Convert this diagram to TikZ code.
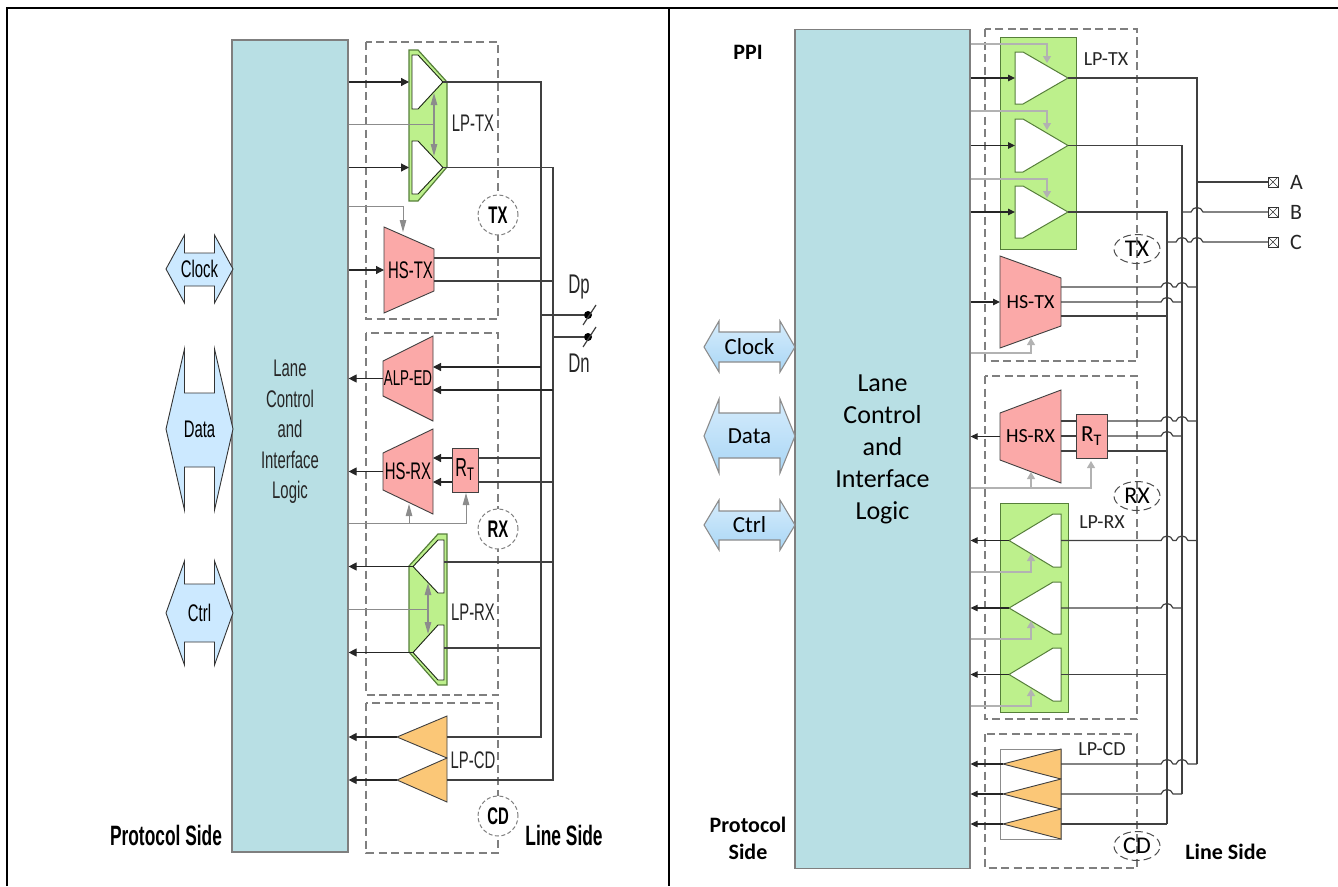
\documentclass[tikz,border=0pt]{standalone}
\usepackage{fontspec}
\setmainfont{Liberation Sans}
\newfontfamily\lfont[FakeStretch=0.62]{Liberation Sans}
\newfontfamily\rfont{Carlito}
\usepackage{xcolor}
\usepackage{tikz}
\usetikzlibrary{
  positioning, arrows.meta, shapes.geometric, calc
}
\definecolor{laneblue}{HTML}{B8DFE4}
\definecolor{hsred}{HTML}{FBA9A8}
\definecolor{lpgreen}{HTML}{BDF08C}
\definecolor{cdorange}{HTML}{FBC777}
\definecolor{busblue}{HTML}{CCE9FF}
\definecolor{bustop}{HTML}{D6ECFC}
\definecolor{buslow}{HTML}{A9D6F5}
\definecolor{dashgray}{HTML}{7F7F7F}
\definecolor{wiregray}{HTML}{404040}
\definecolor{tapgray}{HTML}{8C8C8C}
\definecolor{tapright}{HTML}{B2B2B2}
\definecolor{edgegreen}{HTML}{567F3A}

% amplifier pointing right: style, name, xl, xr, yt, yb
\newcommand{\ampright}[7][8]{%
  \draw[#2] (#4,#6) -- ({#4+#1},#6) -- (#5,{(#6+#7)/2}) -- ({#4+#1},#7) -- (#4,#7) -- cycle;
  \node[hit, minimum width={(#5-#4)*1pt}, minimum height={(#7-#6)*1pt}] (#3) at ({(#4+#5)/2},{(#6+#7)/2}) {};
}
% amplifier pointing left: style, name, xl, xr, yt, yb
\newcommand{\ampleft}[7][8]{%
  \draw[#2] (#5,#6) -- ({#5-#1},#6) -- (#4,{(#6+#7)/2}) -- ({#5-#1},#7) -- (#5,#7) -- cycle;
  \node[hit, minimum width={(#5-#4)*1pt}, minimum height={(#7-#6)*1pt}] (#3) at ({(#4+#5)/2},{(#6+#7)/2}) {};
}
% trapezium, narrow side right: font, name, xl, xr, yt, yb, inset, label
\newcommand{\trapout}[8]{%
  \draw[hsbody] (#3,#5) -- (#4,{#5+#7}) -- (#4,{#6-#7}) -- (#3,#6) -- cycle;
  \node[hit, font=#1, minimum width={(#4-#3)*1pt}, minimum height={(#6-#5)*1pt}] (#2) at ({(#3+#4)/2},{(#5+#6)/2}) {#8};
}
% trapezium, narrow side left
\newcommand{\trapin}[8]{%
  \draw[hsbody] (#3,{#5+#7}) -- (#4,#5) -- (#4,#6) -- (#3,{#6-#7}) -- cycle;
  \node[hit, font=#1, minimum width={(#4-#3)*1pt}, minimum height={(#6-#5)*1pt}] (#2) at ({(#3+#4)/2},{(#5+#6)/2}) {#8};
}
% two-way side arrow: style, name, top, shaft top, centre, shaft bottom, bottom, label
\newcommand{\sidearrow}[8]{%
  \draw[#1] (\bxa,#5) -- (\bxb,#3) -- (\bxb,#4) -- (\bxc,#4) -- (\bxc,#3) -- (\bxd,#5)
    -- (\bxc,#7) -- (\bxc,#6) -- (\bxb,#6) -- (\bxb,#7) -- cycle;
  \node[hit] (#2) at ({(\bxa+\bxd)/2},#5) {#8};
}
% wire hop over a bus
\newcommand{\hop}[2]{-- ($(#2 -| #1)+(-6,0)$) .. controls +(2,-6) and +(-2,-6) .. ($(#2 -| #1)+(6,0)$)}

\begin{document}
\begin{tikzpicture}[
  x=1pt, y=-1pt,
  hit/.style={inner sep=0pt, outer sep=0pt},
  laneblock/.style={rectangle, draw=dashgray, fill=laneblue, line width=1.2pt, align=center},
  dashbox/.style={draw=dashgray, line width=1.4pt, dash pattern=on 8pt off 4.5pt},
  hsbody/.style={draw=wiregray, fill=hsred, line width=0.9pt},
  rtbox/.style={rectangle, draw=wiregray, fill=hsred, line width=1pt, inner sep=0pt, outer sep=0pt},
  lpbody/.style={draw=edgegreen, fill=lpgreen, line width=1.2pt},
  lpamp/.style={draw=black!70!edgegreen, fill=white, line width=0.9pt},
  ramp/.style={draw=edgegreen, fill=white, line width=1pt},
  cdamp/.style={draw=black!75, fill=cdorange, line width=0.9pt},
  lbus/.style={draw=black!80, fill=busblue, line width=0.9pt},
  rbus/.style={draw=tapgray, top color=bustop, bottom color=buslow, line width=1.1pt},
  wire/.style={draw=wiregray, line width=1.2pt},
  arr/.style={draw=black!85, line width=1.2pt, -{Triangle[length=8pt,width=8pt]}},
  rarr/.style={draw=black!85, line width=1.1pt, -{Triangle[length=7pt,width=6.5pt]}},
  gtap/.style={draw=tapgray, line width=1pt},
  garr/.style={draw=tapgray, line width=1pt, -{Triangle[length=12pt,width=6.5pt]}},
  gdbl/.style={draw=tapgray, line width=1.2pt, {Triangle[length=12pt,width=6.5pt]}-{Triangle[length=12pt,width=6.5pt]}},
  rgarr/.style={draw=tapright, line width=1.1pt, -{Triangle[length=7pt,width=8pt]}},
  ring/.style={circle, draw=dashgray, fill=white, line width=1pt, dash pattern=on 4pt off 2.5pt, minimum size=40pt, inner sep=0pt},
  roval/.style={ellipse, draw=black!70, line width=1pt, dash pattern=on 8pt off 4pt, minimum width=46pt, minimum height=29pt, inner sep=0pt},
  pad/.style={circle, fill=black, minimum size=8pt, inner sep=0pt},
  term/.style={rectangle, draw=black!80, line width=0.9pt, minimum size=10pt, inner sep=0pt, outer sep=0pt,
    path picture={\draw[line width=0.6pt] (path picture bounding box.north west) -- (path picture bounding box.south east)
      (path picture bounding box.north east) -- (path picture bounding box.south west);}},
  ltext/.style={font=\lfont\fontsize{24}{31}\selectfont, text=black!85, align=center, inner sep=0pt},
  lbold/.style={font=\lfont\bfseries\fontsize{28}{32}\selectfont, inner sep=0pt},
  rtext/.style={font=\rfont\fontsize{20}{24}\selectfont, text=black!85, align=center, inner sep=0pt},
  rbold/.style={font=\rfont\bfseries\fontsize{22}{27}\selectfont, align=center, inner sep=0pt},
]
\useasboundingbox (0,0) rectangle (1338,886);

% Frame
\draw[line width=2.2pt] (7,886) -- (7,8) -- (1338,8);
\draw[line width=2.2pt] (669,8) -- (669,886);

% Left: blocks
\node[laneblock, minimum width=116pt, minimum height=812pt] (llane) at (290,446) {};
\node[ltext, font=\lfont\fontsize{24}{30.5}\selectfont] (llanetext) at (290,432) {Lane\\Control\\and\\Interface\\Logic};

\draw[dashbox] (366,42) rectangle (498,319);
\draw[dashbox] (366,333) rectangle (498,695);
\draw[dashbox] (366,703) rectangle (498,853);

% Left: side arrows
\def\bxa{166}\def\bxb{184.5}\def\bxc{214.5}\def\bxd{233}
\sidearrow{lbus}{lclock}{235}{253}{269}{286}{303}{\lfont\fontsize{24}{28}\selectfont Clock}
\sidearrow{lbus}{ldata}{349}{393}{429}{467}{510}{\lfont\fontsize{24}{28}\selectfont Data}
\sidearrow{lbus}{lctrl}{561}{584}{613}{642}{665}{\lfont\fontsize{24}{28}\selectfont Ctrl}

% Left: LP-TX
\draw[lpbody] (409,50) -- (418,50) -- (447,82) -- (447,167) -- (418,201) -- (409,201) -- cycle;
\ampright[6]{lpamp}{lptxA}{412}{443}{55}{109}
\ampright[6]{lpamp}{lptxB}{412}{443}{141}{194}
\node[ltext] (llptx) at (473,123) {LP-TX};
\coordinate (lptxS) at (434,124);
\draw[arr, shorten >=3pt] (llane.east |- lptxA.west) -- (lptxA.west);
\draw[arr, shorten >=3pt] (llane.east |- lptxB.west) -- (lptxB.west);
\draw[gtap] (llane.east |- lptxS) -- (lptxS);
\draw[gdbl] (434,93) -- (434,156);

% Left: HS-TX
\trapout{\lfont\fontsize{24}{28}\selectfont}{lhstx}{384}{434}{227}{313}{22}{\hspace{3pt}HS-TX}
\coordinate (lhstxP) at (434,258);
\coordinate (lhstxN) at (434,281);
\coordinate (lhstxG) at (403,232);
\draw[arr] (llane.east |- lhstx.west) -- (lhstx.west);
\draw[tapgray, line width=1pt, -{Triangle[length=12pt,width=6.5pt]}] (llane.east |- 0,206) -| (lhstxG);

% Left: ALP-ED and HS-RX
\trapin{\lfont\fontsize{21.5}{24}\selectfont}{lalped}{383}{433}{336}{421}{25}{ALP-ED}
\trapin{\lfont\fontsize{24}{28}\selectfont}{lhsrx}{383}{433}{429}{514}{24}{HS-RX}
\node[rtbox, minimum width=26pt, minimum height=44pt, font=\lfont\fontsize{26}{28}\selectfont] (lrt) at (465,470) {R\textsubscript{T}};
\coordinate (laledP) at (433,367);
\coordinate (laledN) at (433,390);
\coordinate (lrxP) at (433,458);
\coordinate (lrxN) at (433,482);
\coordinate (lrxG) at (409,504);
\coordinate (lrtG) at (466,493);
\draw[arr] (lalped.west) -- (llane.east |- lalped.west);
\draw[arr] (lhsrx.west) -- (llane.east |- lhsrx.west);
\draw[arr] (lrt.west |- lrxP) -- (lrxP);
\draw[arr] (lrt.west |- lrxN) -- (lrxN);
\draw[garr] (llane.east |- 0,523) -| (lrtG);
\draw[garr] (lrxG |- 0,523) -- (lrxG);

% Left: LP-RX
\draw[lpbody] (438,534) -- (447,534) -- (447,685) -- (438,685) -- (409,652) -- (409,566) -- cycle;
\ampleft[6]{lpamp}{lrxA}{413}{444}{540}{593}
\ampleft[6]{lpamp}{lrxB}{413}{444}{625}{680}
\node[ltext] (llprx) at (473,612) {LP-RX};
\coordinate (lrxaP) at (444,562);
\coordinate (lrxbP) at (444,648);
\coordinate (lrxS) at (428,609);
\draw[arr] (lrxA.west) -- (llane.east |- lrxA.west);
\draw[arr] (lrxB.west) -- (llane.east |- lrxB.west);
\draw[gtap] (llane.east |- lrxS) -- (lrxS);
\draw[gdbl] (428,583) -- (428,634);

% Left: LP-CD
\ampleft[0]{cdamp}{lcdA}{397}{447}{716}{758}
\ampleft[0]{cdamp}{lcdB}{397}{447}{758}{802}
\node[ltext] (llpcd) at (473,760) {LP-CD};
\draw[arr] (lcdA.west) -- (llane.east |- lcdA.west);
\draw[arr] (lcdB.west) -- (llane.east |- lcdB.west);

% Left: line side
\coordinate (lbusp) at (541,400);
\coordinate (lbusn) at (553,400);
\draw[wire] (lptxA.east) -| (lbusp) |- (lcdA.east);
\draw[wire] (lptxB.east) -| (lbusn) |- (lcdB.east);
\draw[wire] (lhstxP) -- (lhstxP -| lbusp);
\draw[wire] (lhstxN) -- (lhstxN -| lbusn);
\draw[wire] (lrxaP) -- (lrxaP -| lbusn);
\draw[wire] (lrxbP) -- (lrxbP -| lbusp);
\draw[arr] (laledP -| lbusp) -- (laledP);
\draw[arr] (laledN -| lbusn) -- (laledN);
\draw[wire] (lrxP -| lbusp) -- (lrt.east |- lrxP);
\draw[wire] (lrxN -| lbusn) -- (lrt.east |- lrxN);

\node[pad] (ldp) at (588,315) {};
\node[pad] (ldn) at (588,337) {};
\draw[wire] (ldp -| lbusp) -- (ldp);
\draw[wire] (ldn -| lbusn) -- (ldn);
\draw[wire] (ldp) ++(-5,10) -- ++(13,-20);
\draw[wire] (ldn) ++(-5,10) -- ++(13,-20);
\node[ltext, font=\lfont\fontsize{27}{31}\selectfont, above=12pt of ldp, xshift=-9pt] (ldplabel) {Dp};
\node[ltext, font=\lfont\fontsize{27}{31}\selectfont, below=13pt of ldn, xshift=-9pt] (ldnlabel) {Dn};

% Left: circles and titles
\node[ring, font=\lfont\bfseries\fontsize{24}{28}\selectfont] (ltx) at (498,215) {TX};
\node[ring, font=\lfont\bfseries\fontsize{24}{28}\selectfont] (lrx) at (498,529) {RX};
\node[ring, font=\lfont\bfseries\fontsize{24}{28}\selectfont] (lcd) at (498,816) {CD};
\node[lbold] (lproto) at (166,835) {Protocol Side};
\node[lbold] (lline) at (564,835) {Line Side};

% Right: blocks
\node[laneblock, minimum width=175pt, minimum height=839pt, font=\rfont\fontsize{26}{32}\selectfont] (rlane) at (882.5,449) {Lane\\Control\\and\\Interface\\Logic};

\draw[dashbox] (985,29) rectangle (1137,361);
\draw[dashbox] (985,376) rectangle (1137,719);
\draw[dashbox] (985,734) rectangle (1137,868);

% Right: side arrows
\def\bxa{704}\def\bxb{719}\def\bxc{780}\def\bxd{795}
\sidearrow{rbus}{rclock}{321}{332}{347}{362}{372}{\rfont\fontsize{23}{28}\selectfont Clock}
\sidearrow{rbus}{rdata}{399}{413}{436}{458}{473}{\rfont\fontsize{23}{28}\selectfont Data}
\sidearrow{rbus}{rctrl}{500}{511}{525}{540}{550}{\rfont\fontsize{23}{28}\selectfont Ctrl}

% Right: LP-TX
\draw[draw=edgegreen, fill=lpgreen, line width=1pt] (1000,37) rectangle (1076,249);
\foreach \amp/\yt/\yb in {rtxA/52/104, rtxB/119/172, rtxC/186/238}{
  \ampright{ramp}{\amp}{1015}{1068}{\yt}{\yb}
  \draw[rarr] (rlane.east |- \amp.west) -- (\amp.west);
}
\foreach \amp/\ytap/\yend in {rtxA/44/63, rtxB/111/130, rtxC/179/198}{
  \coordinate (\amp-g) at (1047,\yend);
  \draw[rgarr] (rlane.east |- 0,\ytap) -| (\amp-g);
}
\node[rtext] (rlptx) at (1106,59) {LP-TX};

% Right: HS-TX
\trapout{\rfont\fontsize{20}{24}\selectfont}{rhstx}{1000}{1061}{256}{348}{22}{HS-TX}
\coordinate (rhstxA) at (1061,287);
\coordinate (rhstxB) at (1061,302);
\coordinate (rhstxC) at (1061,316);
\coordinate (rhstxG) at (1031,338);
\draw[rarr] (rlane.east |- rhstx.west) -- (rhstx.west);
\draw[rgarr] (rlane.east |- 0,353) -| (rhstxG);

% Right: HS-RX
\trapin{\rfont\fontsize{20}{24}\selectfont}{rhsrx}{1000}{1061}{390}{483}{23}{HS-RX}
\node[rtbox, minimum width=31pt, minimum height=44pt, font=\rfont\fontsize{23}{26}\selectfont] (rrt) at (1091.5,436) {R\textsubscript{T}};
\coordinate (rrxA) at (1061,421);
\coordinate (rrxB) at (1061,436);
\coordinate (rrxC) at (1061,451);
\coordinate (rrxG) at (1031,472);
\coordinate (rrtG) at (1091,461);
\draw[rarr] (rhsrx.west) -- (rlane.east |- rhsrx.west);
\draw[wire] (rrxA) -- (rrt.west |- rrxA);
\draw[wire] (rrxB) -- (rrt.west |- rrxB);
\draw[wire] (rrxC) -- (rrt.west |- rrxC);
\draw[rgarr] (rlane.east |- 0,488) -| (rrtG);
\draw[rgarr] (rrxG |- 0,488) -- (rrxG);

% Right: LP-RX
\draw[draw=edgegreen, fill=lpgreen, line width=1pt] (1000,503) rectangle (1068,712);
\foreach \amp/\yt/\yb in {rrxa/514/567, rrxb/582/634, rrxc/648/701}{
  \ampleft{ramp}{\amp}{1009}{1061}{\yt}{\yb}
  \draw[rarr] (\amp.west) -- (rlane.east |- \amp.west);
}
\foreach \amp/\ytap/\yend in {rrxa/572/554, rrxb/639/621, rrxc/706/689}{
  \coordinate (\amp-g) at (1031,\yend);
  \draw[rgarr] (rlane.east |- 0,\ytap) -| (\amp-g);
}
\node[rtext] (rlprx) at (1102,522) {LP-RX};

% Right: LP-CD
\node[draw=tapgray, line width=1pt, minimum width=61pt, minimum height=90pt, hit] (rcdbox) at (1030.5,794) {};
\foreach \amp/\yt/\yb in {rcdA/749/779, rcdB/779/809, rcdC/809/839}{
  \ampleft[0]{cdamp}{\amp}{1003}{1061}{\yt}{\yb}
  \draw[rarr] (\amp.west) -- (rlane.east |- \amp.west);
}
\node[rtext] (rlpcd) at (1102,749) {LP-CD};

% Right: buses
\coordinate (rbusa) at (1197,400);
\coordinate (rbusb) at (1182,400);
\coordinate (rbusc) at (1167,400);
\draw[wire] (rtxA.east) -| (rbusa) -- (rbusa |- rcdA.east);
\draw[wire] (rtxB.east) -| (rbusb) -- (rbusb |- rcdB.east);
\draw[wire] (rtxC.east) -| (rbusc) -- (rbusc |- rcdC.east);

\draw[wire] (rhstxA) \hop{rbusc}{rhstxA} \hop{rbusb}{rhstxA} -- (rhstxA -| rbusa);
\draw[wire] (rhstxB) \hop{rbusc}{rhstxB} -- (rhstxB -| rbusb);
\draw[wire] (rhstxC) -- (rhstxC -| rbusc);

\draw[wire] (rrt.east |- rrxA) \hop{rbusc}{rrxA} \hop{rbusb}{rrxA} -- (rrxA -| rbusa);
\draw[wire] (rrt.east |- rrxB) \hop{rbusc}{rrxB} -- (rrxB -| rbusb);
\draw[wire] (rrt.east |- rrxC) -- (rrxC -| rbusc);

\draw[wire] (rrxa.east) \hop{rbusc}{rrxa.east} \hop{rbusb}{rrxa.east} -- (rrxa.east -| rbusa);
\draw[wire] (rrxb.east) \hop{rbusc}{rrxb.east} -- (rrxb.east -| rbusb);
\draw[wire] (rrxc.east) -- (rrxc.east -| rbusc);

\draw[wire] (rcdA.east) \hop{rbusc}{rcdA.east} \hop{rbusb}{rcdA.east} -- (rcdA.east -| rbusa);
\draw[wire] (rcdB.east) \hop{rbusc}{rcdB.east} -- (rcdB.east -| rbusb);
\draw[wire] (rcdC.east) -- (rcdC.east -| rbusc);

% Right: terminals
\node[term] (rta) at (1273,182) {};
\node[term] (rtb) at (1273,212) {};
\node[term] (rtc) at (1273,242) {};
\node[rtext, font=\rfont\fontsize{22}{26}\selectfont, right=12pt of rta] (rla) {A};
\node[rtext, font=\rfont\fontsize{22}{26}\selectfont, right=12pt of rtb] (rlb) {B};
\node[rtext, font=\rfont\fontsize{22}{26}\selectfont, right=12pt of rtc] (rlc) {C};
\draw[wire] (rta -| rbusa) -- (rta);
\draw[wire] (rtb -| rbusb) \hop{rbusa}{rtb} -- (rtb);
\draw[wire] (rtc -| rbusc) \hop{rbusb}{rtc} \hop{rbusa}{rtc} -- (rtc);

% Right: ovals and titles
\node[roval, font=\rfont\fontsize{24}{28}\selectfont] (rtx) at (1137,249) {TX};
\node[roval, font=\rfont\fontsize{24}{28}\selectfont] (rrx) at (1137,496) {RX};
\node[roval, font=\rfont\fontsize{24}{28}\selectfont] (rcd) at (1137,846) {CD};
\node[rbold] (rppi) at (748,52) {PPI};
\node[rbold] (rproto) at (748,838) {Protocol\\Side};
\node[rbold] (rline) at (1226,852) {Line Side};
\end{tikzpicture}
\end{document}
